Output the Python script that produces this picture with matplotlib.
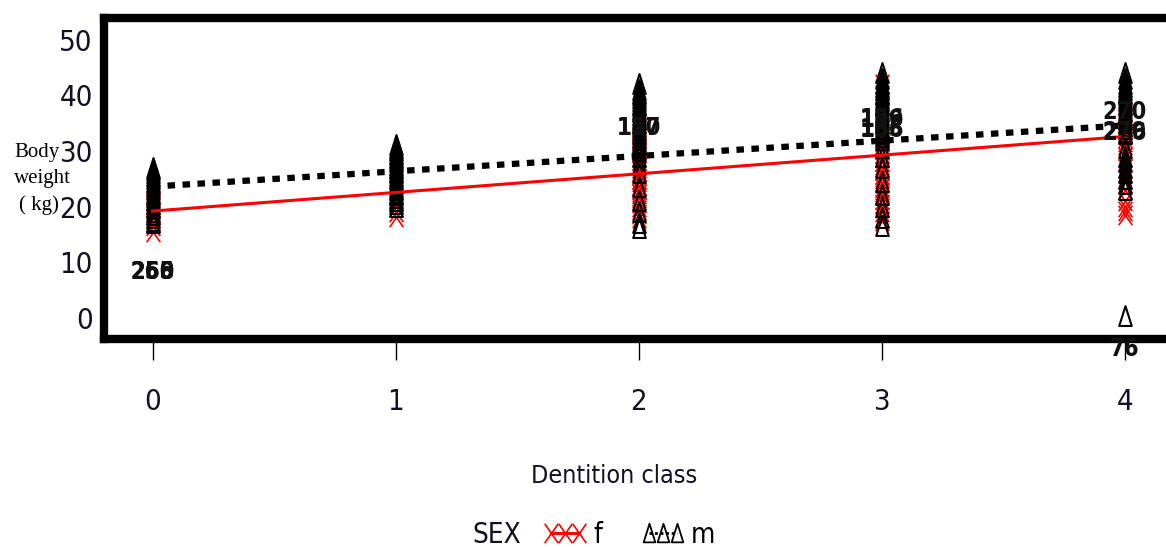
import matplotlib
matplotlib.use("Agg")
import matplotlib.pyplot as plt
from matplotlib import font_manager
from matplotlib.path import Path
from matplotlib.lines import Line2D


# look for a condensed sans font (regular and bold), else Liberation Sans
def find_narrow(bold):
    for f in font_manager.fontManager.ttflist:
        fn = f.fname.lower()
        if not ("narrow" in fn or "condensed" in fn):
            continue
        if "oblique" in fn or "italic" in fn or "serif" in fn or "mono" in fn:
            continue
        if ("bold" in fn) == bold:
            return f.fname
    return None


reg_file = find_narrow(False)
bold_file = find_narrow(True)


def fp(size, bold=False):
    fname = bold_file if bold else reg_file
    if fname:
        return font_manager.FontProperties(fname=fname, size=size)
    return font_manager.FontProperties(family="Liberation Sans", size=size,
                                       weight="bold" if bold else "normal")


# dentition class -> body weights (kg)
classes = [0, 1, 2, 3, 4]
female = {
    0: [15.5, 16.5, 17, 18, 18.5, 19, 20, 20.5, 21, 22],
    1: [18.2, 19, 20, 21, 22, 23, 24, 25, 26, 27],
    2: [18, 18.7, 19.4, 20, 20.7, 21.5, 22.2, 23, 23.7, 24.4, 25, 25.7, 26.4,
        27, 27.7, 28.4, 29, 29.7, 30.4, 31, 31.7, 32.4, 33, 34, 35],
    3: [17.5, 18.2, 19, 19.7, 20.5, 21.2, 22, 22.7, 23.4, 24.2, 25, 25.7, 26.4,
        27.2, 28, 28.7, 29.4, 30.2, 31, 31.7, 32.4, 33, 34, 35, 36, 37, 38, 39,
        40, 41, 42],
    4: [18.5, 19.3, 20, 21, 23, 25, 27, 29, 30, 31, 31.7, 32.4, 33, 34, 35, 36, 37],
}
male = {
    0: [17, 17.5, 18, 18.5, 19, 19.5, 20, 20.5, 21, 21.5, 22, 22.5, 23, 23.5,
        24, 24.5, 25, 25.5, 26, 26.5, 27],
    1: [20, 20.5, 21, 21.5, 22, 22.5, 23, 23.5, 24, 24.5, 25, 25.5, 26, 26.5,
        27, 27.5, 28, 28.5, 29, 29.5, 30, 30.5, 31],
    2: [16.2, 17, 19, 21, 23.5, 26, 27.5, 29, 30, 30.5, 31, 31.5, 32, 32.5, 33,
        33.5, 34, 34.5, 35, 35.5, 36, 36.5, 37, 37.5, 38, 38.5, 39, 39.5, 40,
        40.5, 41, 42],
    3: [16.5, 18, 20, 22, 24.5, 27, 29, 30.5, 32, 32.5, 33, 33.5, 34, 34.5, 35,
        35.5, 36, 36.5, 37, 37.5, 38, 38.5, 39, 39.5, 40, 40.5, 41, 41.5, 42,
        43, 44],
    4: [0.4, 23, 24, 25, 26, 27, 28, 29, 30.5, 33, 33.5, 34, 34.5, 35, 35.5,
        36, 36.5, 37, 37.5, 38, 38.5, 39, 39.5, 40, 40.5, 41, 41.5, 42, 43, 44],
}
# fitted lines (ends at class 0 and class 4)
line_x = [0, 4]
f_line = [19.2, 32.6]
m_line = [23.6, 34.6]

# case-number labels next to extreme points
label_x = [0, 0, 0, 2, 2, 3, 3, 3, 3, 4, 4, 4, 4]
label_y = [8.3, 8.3, 8.3, 34.2, 34.2, 35.8, 35.5, 33.8, 34.0, 37.0, 33.2, 33.4, -5.6]
label_txt = ["260", "255", "268", "150", "127", "156", "199", "186", "163",
             "270", "276", "279", "76"]

yticks = [0, 10, 20, 30, 40, 50]

tri = Path([(-0.33, -0.5), (0.33, -0.5), (0, 0.55), (-0.33, -0.5)],
           [Path.MOVETO, Path.LINETO, Path.LINETO, Path.CLOSEPOLY])
xm = Path([(-0.35, -0.5), (0.35, 0.5), (-0.35, 0.5), (0.35, -0.5)],
          [Path.MOVETO, Path.LINETO, Path.MOVETO, Path.LINETO])

fig = plt.figure(figsize=(11.66, 5.47), dpi=100)
ax = fig.add_axes([104 / 1166, 1 - 339 / 547, 1.1, (339 - 17.5) / 547])

for c in classes:
    ax.plot([c] * len(female[c]), female[c], linestyle="none", marker=xm,
            markersize=14, markeredgecolor="red", markeredgewidth=1.2, zorder=3)
for c in classes:
    ax.plot([c] * len(male[c]), male[c], linestyle="none", marker=tri,
            markersize=15, markerfacecolor="none", markeredgecolor="black",
            markeredgewidth=1.5, zorder=4)

ax.plot(line_x, f_line, color="red", lw=2.2, zorder=5)
ax.plot(line_x, m_line, color="black", lw=4.5, linestyle=(0, (1.2, 1.2)), zorder=5)

for x, y, t in zip(label_x, label_y, label_txt):
    ax.text(x, y, t, ha="center", va="center", fontproperties=fp(17, True),
            color="#111111", clip_on=False, zorder=6)

ax.set_xlim(-0.2, -0.2 + 1.1 * 1166 / 243)
ax.set_ylim(-3.8, 54.0)
ax.set_xticks(classes)
ax.set_yticks(yticks)
ax.tick_params(axis="x", length=15, width=1, pad=20, direction="out")
ax.tick_params(axis="y", length=3, width=1, pad=5, direction="out")
for lab in ax.get_xticklabels() + ax.get_yticklabels():
    lab.set_fontproperties(fp(21))
    lab.set_color("#111122")
for s in ax.spines.values():
    s.set_linewidth(6)

serif = dict(family="Liberation Serif", fontsize=15, va="baseline", ha="left")
fig.text(14 / 1166, 1 - 157 / 547, "Body", **serif)
fig.text(14 / 1166, 1 - 183 / 547, "weight", **serif)
fig.text(19 / 1166, 1 - 210 / 547, "( kg)", **serif)

fig.text(614 / 1166, 1 - 476 / 547, "Dentition class", fontproperties=fp(18),
         ha="center", va="center", color="#111122")

fig.text(472 / 1166, 1 - 535 / 547, "SEX", fontproperties=fp(20),
         ha="left", va="center", color="#111122")
handles = [
    Line2D([], [], color="red", lw=2.2, marker=xm, markersize=14,
           markeredgecolor="red", markeredgewidth=1.2),
    Line2D([], [], color="black", lw=2, linestyle=(0, (1, 1)), marker=tri,
           markersize=14, markerfacecolor="none", markeredgecolor="black",
           markeredgewidth=1.3),
]
fig.legend(handles, ["f", "m"], loc="center left", ncol=2, frameon=False,
           bbox_to_anchor=(543 / 1166, 1 - 535 / 547), borderpad=0, borderaxespad=0,
           numpoints=3, handlelength=1.6, handletextpad=0.2, columnspacing=1.4,
           prop=fp(20))

fig.savefig("out.png", dpi=100)
